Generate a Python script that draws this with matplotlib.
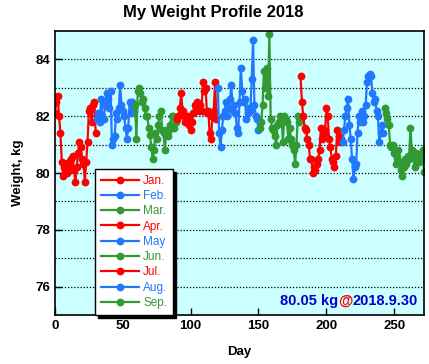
import matplotlib
matplotlib.use("Agg")
import matplotlib.pyplot as plt
import numpy as np

plt.rcParams['font.family'] = ['Liberation Sans', 'DejaVu Sans']

months = ["Jan.", "Feb.", "Mar.", "Apr.", "May", "Jun.", "Jul.", "Aug.", "Sep."]
colors = ["#FF0000", "#2277FF", "#339933"] * 3

jan = [82.1, 82.5, 82.7, 82.0, 81.4, 80.4, 79.9, 80.2, 80.3, 80.0, 80.4, 80.2, 80.5, 80.6, 80.1, 79.7,
       80.2, 80.7, 81.1, 80.9, 80.5, 80.3, 79.7, 80.4, 81.1, 82.2, 82.3, 81.8, 82.4, 82.5, 81.4]
feb = [81.9, 82.1, 81.8, 82.6, 82.0, 81.9, 82.4, 82.8, 82.6, 82.3, 82.9, 81.0, 81.2, 81.3, 82.1, 81.9,
       82.3, 83.1, 82.4, 82.2, 82.0, 81.6, 81.2, 81.6, 82.5, 82.1, 82.5, 82.2]
mar = [82.4, 81.2, 82.9, 83.0, 82.8, 82.5, 82.6, 82.3, 82.0, 82.0, 81.6, 81.35, 80.9, 80.5, 80.8, 81.4,
       81.2, 81.7, 82.0, 82.2, 81.5, 81.4, 80.8, 81.5, 81.3, 81.5, 81.7, 82.0, 82.0, 81.6, 81.8]
apr = [81.9, 82.0, 82.3, 82.8, 82.2, 82.0, 81.8, 82.0, 81.9, 81.7, 81.5, 81.8, 82.1, 82.4, 82.3, 82.5,
       82.2, 82.4, 82.2, 83.2, 82.9, 83.0, 82.1, 82.2, 81.4, 81.2, 82.0, 82.2, 83.2, 81.9]
may = [83.0, 81.4, 80.9, 81.5, 82.0, 82.2, 82.5, 82.0, 82.3, 82.6, 83.1, 82.2, 82.4, 82.1, 81.6, 81.4,
       82.5, 83.7, 82.9, 82.5, 82.6, 81.9, 82.1, 82.3, 82.2, 83.3, 84.7, 82.4, 82.0, 81.9, 81.5]
jun = [81.6, 81.8, 82.4, 83.6, 83.0, 83.7, 82.7, 84.9, 81.9, 81.6, 81.5, 81.3, 81.0, 81.7, 81.8, 82.0,
       81.9, 81.1, 82.0, 81.9, 81.8, 81.2, 81.6, 81.2, 81.0, 80.8, 80.3, 81.0, 82.0, 81.8]
jul = [83.4, 82.5, 82.0, 81.6, 81.5, 81.2, 81.0, 80.5, 80.5, 80.0, 80.2, 80.1, 80.3, 80.5, 80.8, 81.6,
       81.2, 81.5, 81.4, 82.3, 82.0, 81.2, 80.9, 80.5, 80.4, 80.2, 80.6, 81.5, 81.3, 81.1, 81.2]
aug = [81.1, 81.5, 82.0, 82.3, 82.6, 81.7, 81.2, 80.5, 79.8, 80.2, 80.3, 81.4, 82.0, 81.8, 82.2, 81.8,
       82.0, 82.4, 83.2, 83.4, 83.5, 83.4, 82.8, 82.5, 82.6, 82.2, 82.0, 81.1, 81.4, 81.7, 81.4]
sep = [82.3, 82.1, 81.9, 81.7, 81.0, 80.9, 81.0, 80.7, 80.3, 80.6, 80.8, 80.4, 80.1, 79.9, 80.2, 80.5,
       80.3, 80.6, 80.5, 81.6, 80.8, 80.6, 80.2, 80.7, 80.5, 80.4, 80.6, 80.5, 80.8, 80.05]
series = [jan, feb, mar, apr, may, jun, jul, aug, sep]

latest_weight = "80.05 kg"
latest_date = "2018.9.30"

fig = plt.figure(figsize=(4.29, 3.64), dpi=100)
ax = fig.add_axes([55/429, 49/364, 369/429, 284/364])
ax.set_facecolor("#CCFFFF")

start = 0
for name, vals, c in zip(months, series, colors):
    x = np.arange(start, start + len(vals))
    ax.plot(x, vals, color=c, lw=1.6, marker='o', ms=4.6, label=name)
    start += len(vals)

ax.set_xlim(0, 272)
ax.set_ylim(75, 85)
ax.set_xticks([0, 50, 100, 150, 200, 250])
ax.set_yticks([76, 78, 80, 82, 84])
ax.set_yticks([77, 79, 81, 83], minor=True)
ax.grid(axis='y', which='both', color='black', ls=(0, (1, 1.5)), lw=0.9)
ax.tick_params(axis='both', which='both', direction='in', length=5, width=1, labelsize=9.5)
ax.tick_params(axis='y', which='minor', length=0)
for lab in ax.get_xticklabels() + ax.get_yticklabels():
    lab.set_fontweight('bold')
for s in ax.spines.values():
    s.set_linewidth(1.2)

ax.set_xlabel("Day", fontsize=9.5, fontweight='bold', labelpad=10)
ax.set_ylabel("Weight, kg", fontsize=9.5, fontweight='bold', labelpad=8)
fig.text(0.497, 0.967, "My Weight Profile 2018", ha='center', va='center',
         fontsize=12, fontweight='bold')

leg = ax.legend(loc='upper left', bbox_to_anchor=(0.108, 0.515), borderaxespad=0,
                fontsize=8.5, frameon=True, fancybox=False,
                shadow={'color': 'black', 'alpha': 1},
                handlelength=3.2, handletextpad=0.4, labelspacing=0.28,
                borderpad=0.5, labelcolor='linecolor')
leg.get_frame().set_edgecolor('black')
leg.get_frame().set_linewidth(1.0)
leg.get_frame().set_facecolor('white')
leg.get_frame().set_alpha(1)

tp = dict(fontsize=10.5, fontweight='bold')
t3 = ax.text(0.983, 0.025, latest_date, transform=ax.transAxes, ha='right', va='bottom',
             color='#0000CC', **tp)
t2 = ax.annotate("@", xy=(0, 0), xycoords=t3, ha='right', va='bottom', color='#FF0000', **tp)
t1 = ax.annotate(latest_weight, xy=(0, 0), xycoords=t2, ha='right', va='bottom',
                 color='#0000CC', **tp)

fig.savefig("out.png", dpi=100)
